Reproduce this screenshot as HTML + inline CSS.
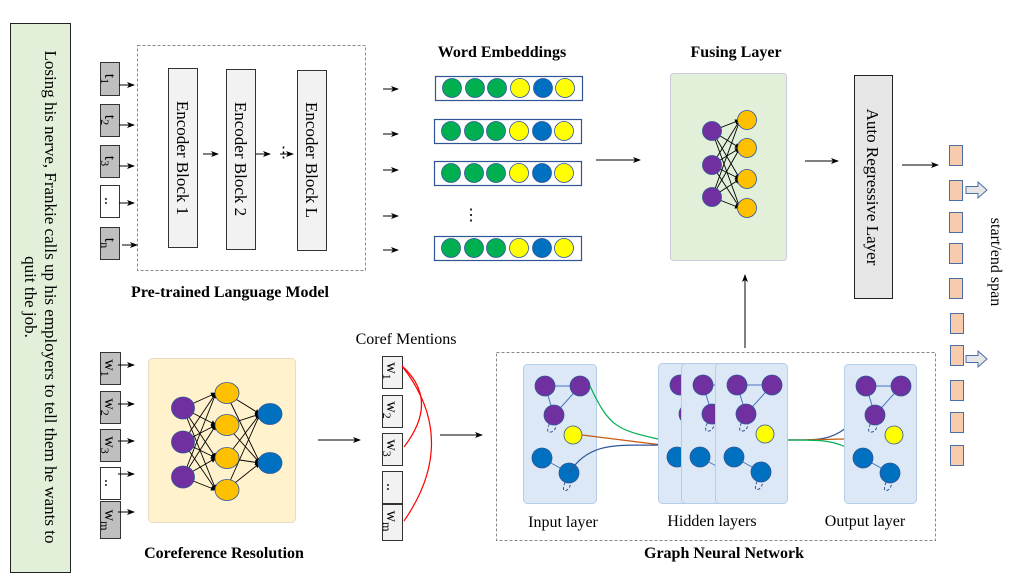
<!DOCTYPE html>
<html><head><meta charset="utf-8"><style>
body{margin:0;background:#fff}
svg, svg text{font-family:"Liberation Serif","DejaVu Serif",serif}
</style></head><body>
<svg width="1035" height="582" viewBox="0 0 1035 582" xmlns="http://www.w3.org/2000/svg" font-family="Liberation Serif, DejaVu Serif, serif">
<defs>
<marker id="a" markerWidth="8" markerHeight="8" refX="7" refY="4" orient="auto" markerUnits="userSpaceOnUse"><path d="M0,1 L8,4 L0,7 L2,4z" fill="#000"/></marker>
<marker id="s" markerWidth="6" markerHeight="6" refX="5" refY="3" orient="auto" markerUnits="userSpaceOnUse"><path d="M0,0.5 L6,3 L0,5.5z" fill="#000"/></marker>
<g id="gr">
<path d="M22,22 L57,22 L31,51 Z" fill="none" stroke="#4472c4" stroke-width="1"/>
<path d="M31,51 Q20,70 28,68 Q36,66 31,51" fill="none" stroke="#2f5597" stroke-dasharray="3,2"/>
<circle cx="22" cy="22" r="10" fill="#7030a0" stroke="#2f5597" stroke-width=".8"/>
<circle cx="57" cy="22" r="10" fill="#7030a0" stroke="#2f5597" stroke-width=".8"/>
<circle cx="31" cy="51" r="10" fill="#7030a0" stroke="#2f5597" stroke-width=".8"/>
<circle cx="50" cy="71" r="9" fill="#ffff00" stroke="#2f5597" stroke-width=".8"/>
<line x1="19" y1="94" x2="46" y2="109" stroke="#4472c4"/>
<path d="M46,109 Q36,130 44,126 Q50,122 46,109" fill="none" stroke="#2f5597" stroke-dasharray="3,2"/>
<circle cx="19" cy="94" r="10" fill="#0070c0" stroke="#2f5597" stroke-width=".8"/>
<circle cx="46" cy="109" r="10" fill="#0070c0" stroke="#2f5597" stroke-width=".8"/>
</g>
</defs>

<!-- left sentence -->
<rect x="10.5" y="23.5" width="60" height="549" fill="#e2efd9" stroke="#222"/>
<text transform="translate(45,297) rotate(90)" text-anchor="middle" font-size="17">Losing his nerve, Frankie calls up his employers to tell them he wants to</text>
<text transform="translate(25,297) rotate(90)" text-anchor="middle" font-size="17">quit the job.</text>

<!-- PLM -->
<rect x="137.5" y="45.5" width="228" height="225" fill="none" stroke="#888" stroke-dasharray="3,2"/>
<g stroke="#333">
<rect x="100.5" y="62.5" width="19" height="33" fill="#bfbfbf"/>
<rect x="100.5" y="104.5" width="19" height="32" fill="#bfbfbf"/>
<rect x="100.5" y="145.5" width="19" height="32" fill="#bfbfbf"/>
<rect x="100.5" y="185.5" width="19" height="32" fill="#fff"/>
<rect x="100.5" y="227.5" width="19" height="32" fill="#bfbfbf"/>
</g>
<g font-size="16" text-anchor="middle">
<text transform="translate(105,79) rotate(90)">t<tspan font-size="12" dy="4">1</tspan></text>
<text transform="translate(105,120) rotate(90)">t<tspan font-size="12" dy="4">2</tspan></text>
<text transform="translate(105,161) rotate(90)">t<tspan font-size="12" dy="4">3</tspan></text>
<text transform="translate(105,201) rotate(90)">..</text>
<text transform="translate(105,243) rotate(90)">t<tspan font-size="12" dy="4">n</tspan></text>
</g>
<g stroke="#000" marker-end="url(#a)">
<line x1="119" y1="85" x2="134" y2="85"/><line x1="119" y1="125" x2="134" y2="125"/>
<line x1="119" y1="166" x2="134" y2="166"/><line x1="119" y1="203" x2="134" y2="203"/>
<line x1="122" y1="245" x2="137" y2="245"/>
<line x1="203" y1="154" x2="218" y2="154"/><line x1="255" y1="154" x2="270" y2="154"/>
<line x1="280" y1="154" x2="293" y2="154"/>
</g>
<text x="276" y="157" font-size="15">⋮</text>
<g fill="#f2f2f2" stroke="#333">
<rect x="168.5" y="68.5" width="29" height="179"/>
<rect x="226.5" y="69.5" width="29" height="180"/>
<rect x="297.5" y="70.5" width="29" height="180"/>
</g>
<g font-size="17" text-anchor="middle">
<text transform="translate(177,158) rotate(90)">Encoder Block 1</text>
<text transform="translate(235,159) rotate(90)">Encoder Block 2</text>
<text transform="translate(306,160) rotate(90)">Encoder Block L</text>
</g>
<text x="230" y="297" font-size="16" font-weight="bold" text-anchor="middle">Pre-trained Language Model</text>

<!-- Word embeddings -->
<text x="502" y="57" font-size="16" font-weight="bold" text-anchor="middle">Word Embeddings</text>
<g stroke="#000" marker-end="url(#a)">
<line x1="383" y1="89" x2="398" y2="89"/><line x1="383" y1="134" x2="398" y2="134"/>
<line x1="383" y1="170" x2="398" y2="170"/><line x1="383" y1="216" x2="398" y2="216"/>
<line x1="383" y1="250" x2="398" y2="250"/>
</g>
<g id="emb">
<rect x="435.5" y="76.5" width="147" height="24" fill="#fff" stroke="#2f5597" stroke-width="1.2"/>
<g stroke="#2f5597" stroke-width=".8">
<circle cx="452" cy="88" r="9.5" fill="#00b050"/><circle cx="475" cy="88" r="9.5" fill="#00b050"/>
<circle cx="497" cy="88" r="9.5" fill="#00b050"/><circle cx="520" cy="88" r="9.5" fill="#ffff00"/>
<circle cx="543" cy="88" r="9.5" fill="#0070c0"/><circle cx="565" cy="88" r="9.5" fill="#ffff00"/>
</g></g>
<use href="#emb" x="-1" y="43"/><use href="#emb" x="-1" y="85"/><use href="#emb" x="-1" y="160"/>
<text x="471" y="220" font-size="16" text-anchor="middle">⋮</text>

<!-- Fusing -->
<line x1="596" y1="160" x2="640" y2="160" stroke="#000" marker-end="url(#a)"/>
<text x="736" y="57" font-size="16" font-weight="bold" text-anchor="middle">Fusing Layer</text>
<rect x="670.5" y="73.5" width="116" height="187" rx="3" fill="#e2efd9" stroke="#ccd"/>
<g stroke="#000" stroke-width=".9" marker-end="url(#s)">
<line x1="712" y1="131" x2="740" y2="120"/><line x1="712" y1="131" x2="740" y2="148"/><line x1="712" y1="131" x2="740" y2="179"/><line x1="712" y1="131" x2="740" y2="208"/>
<line x1="712" y1="165" x2="740" y2="120"/><line x1="712" y1="165" x2="740" y2="148"/><line x1="712" y1="165" x2="740" y2="179"/><line x1="712" y1="165" x2="740" y2="208"/>
<line x1="712" y1="197" x2="740" y2="120"/><line x1="712" y1="197" x2="740" y2="148"/><line x1="712" y1="197" x2="740" y2="179"/><line x1="712" y1="197" x2="740" y2="208"/>
</g>
<g stroke="#2f5597" stroke-width=".8">
<circle cx="712" cy="131" r="9.5" fill="#7030a0"/><circle cx="712" cy="165" r="9.5" fill="#7030a0"/><circle cx="712" cy="197" r="9.5" fill="#7030a0"/>
<circle cx="747" cy="120" r="9.5" fill="#ffc000"/><circle cx="747" cy="148" r="9.5" fill="#ffc000"/><circle cx="747" cy="179" r="9.5" fill="#ffc000"/><circle cx="747" cy="208" r="9.5" fill="#ffc000"/>
</g>
<line x1="745" y1="348" x2="745" y2="275" stroke="#000" marker-end="url(#a)"/>

<!-- AR -->
<line x1="805" y1="161" x2="838" y2="161" stroke="#000" marker-end="url(#a)"/>
<rect x="854.5" y="75.5" width="38" height="223" fill="#e6e6e6" stroke="#222"/>
<text transform="translate(867,187) rotate(90)" font-size="17" text-anchor="middle">Auto Regressive Layer</text>
<line x1="902" y1="165" x2="938" y2="165" stroke="#000" marker-end="url(#a)"/>
<g fill="#f8cbad" stroke="#4a6fa8">
<rect x="949.5" y="145.5" width="13" height="20"/><rect x="949.5" y="180.5" width="13" height="20"/>
<rect x="949.5" y="212.5" width="13" height="20"/><rect x="949.5" y="243.5" width="13" height="20"/>
<rect x="949.5" y="278.5" width="13" height="20"/><rect x="950.5" y="313.5" width="13" height="20"/>
<rect x="950.5" y="345.5" width="13" height="20"/><rect x="950.5" y="380.5" width="13" height="20"/>
<rect x="950.5" y="412.5" width="13" height="20"/><rect x="950.5" y="445.5" width="13" height="20"/>
</g>
<g fill="#e6e6e6" stroke="#4a6fa8">
<path d="M966,186.5 H978 V182 L987,190 L978,198 V193.5 H966Z"/>
<path d="M966,355.5 H978 V351 L987,359 L978,367 V362.5 H966Z"/>
</g>
<text transform="translate(991,262) rotate(90)" font-size="16" text-anchor="middle">start/end span</text>

<!-- Coreference -->
<g stroke="#333">
<rect x="100.5" y="352.5" width="20" height="32" fill="#bfbfbf"/>
<rect x="100.5" y="391.5" width="20" height="32" fill="#bfbfbf"/>
<rect x="100.5" y="429.5" width="20" height="32" fill="#bfbfbf"/>
<rect x="100.5" y="467.5" width="20" height="32" fill="#fff"/>
<rect x="100.5" y="501.5" width="20" height="37" fill="#bfbfbf"/>
</g>
<g font-size="16" text-anchor="middle">
<text transform="translate(105,368) rotate(90)">w<tspan font-size="12" dy="4">1</tspan></text>
<text transform="translate(105,407) rotate(90)">w<tspan font-size="12" dy="4">2</tspan></text>
<text transform="translate(105,445) rotate(90)">w<tspan font-size="12" dy="4">3</tspan></text>
<text transform="translate(105,483) rotate(90)">..</text>
<text transform="translate(105,520) rotate(90)">w<tspan font-size="12" dy="4">m</tspan></text>
</g>
<g stroke="#000" marker-end="url(#a)">
<line x1="118" y1="365" x2="134" y2="365"/><line x1="118" y1="404" x2="134" y2="404"/>
<line x1="118" y1="441" x2="134" y2="441"/><line x1="118" y1="474" x2="134" y2="474"/>
<line x1="118" y1="512" x2="134" y2="512"/>
</g>
<rect x="148.5" y="358.5" width="147" height="164" rx="4" fill="#fff2cc" stroke="#e6dcc0"/>
<g stroke="#000" stroke-width=".9" marker-end="url(#s)">
<line x1="183" y1="408" x2="216" y2="393"/><line x1="183" y1="408" x2="216" y2="425"/><line x1="183" y1="408" x2="216" y2="458"/><line x1="183" y1="408" x2="216" y2="490"/>
<line x1="183" y1="442" x2="216" y2="393"/><line x1="183" y1="442" x2="216" y2="425"/><line x1="183" y1="442" x2="216" y2="458"/><line x1="183" y1="442" x2="216" y2="490"/>
<line x1="183" y1="477" x2="216" y2="393"/><line x1="183" y1="477" x2="216" y2="425"/><line x1="183" y1="477" x2="216" y2="458"/><line x1="183" y1="477" x2="216" y2="490"/>
<line x1="226" y1="393" x2="260" y2="414"/><line x1="226" y1="393" x2="260" y2="463"/>
<line x1="226" y1="425" x2="260" y2="414"/><line x1="226" y1="425" x2="260" y2="463"/>
<line x1="226" y1="458" x2="260" y2="414"/><line x1="226" y1="458" x2="260" y2="463"/>
<line x1="226" y1="490" x2="260" y2="414"/><line x1="226" y1="490" x2="260" y2="463"/>
</g>
<g stroke="#2f5597" stroke-width=".8">
<ellipse cx="183" cy="408" rx="11.5" ry="11" fill="#7030a0"/><ellipse cx="183" cy="442" rx="11.5" ry="11" fill="#7030a0"/><ellipse cx="183" cy="477" rx="11.5" ry="11" fill="#7030a0"/>
<ellipse cx="227" cy="393" rx="12" ry="10.5" fill="#ffc000"/><ellipse cx="227" cy="425" rx="12" ry="10.5" fill="#ffc000"/><ellipse cx="227" cy="458" rx="12" ry="10.5" fill="#ffc000"/><ellipse cx="227" cy="490" rx="12" ry="10.5" fill="#ffc000"/>
<ellipse cx="270" cy="414" rx="12" ry="10.5" fill="#0070c0"/><ellipse cx="270" cy="463" rx="12" ry="10.5" fill="#0070c0"/>
</g>
<text x="224" y="558" font-size="16" font-weight="bold" text-anchor="middle">Coreference Resolution</text>
<line x1="318" y1="440" x2="360" y2="440" stroke="#000" marker-end="url(#a)"/>
<text x="406" y="344" font-size="16" text-anchor="middle">Coref Mentions</text>
<g fill="#f2f2f2" stroke="#333">
<rect x="382.5" y="356.5" width="20" height="32"/><rect x="382.5" y="395.5" width="20" height="32"/>
<rect x="382.5" y="433.5" width="20" height="32"/><rect x="382.5" y="471.5" width="20" height="32"/>
<rect x="382.5" y="504.5" width="20" height="36"/>
</g>
<g font-size="16" text-anchor="middle">
<text transform="translate(387,371) rotate(90)">w<tspan font-size="12" dy="4">1</tspan></text>
<text transform="translate(387,410) rotate(90)">w<tspan font-size="12" dy="4">2</tspan></text>
<text transform="translate(387,448) rotate(90)">w<tspan font-size="12" dy="4">3</tspan></text>
<text transform="translate(387,487) rotate(90)">..</text>
<text transform="translate(387,521) rotate(90)">w<tspan font-size="12" dy="4">m</tspan></text>
</g>
<g fill="none" stroke="#ff0000" stroke-width="1.2">
<path d="M402,366 Q440,400 404,447"/>
<path d="M402,366 Q460,440 404,521"/>
</g>
<line x1="440" y1="435" x2="482" y2="435" stroke="#000" marker-end="url(#a)"/>

<!-- GNN -->
<rect x="496.5" y="352.5" width="439" height="188" fill="none" stroke="#888" stroke-dasharray="3,2"/>
<rect x="523.5" y="364.5" width="73" height="139" rx="4" fill="#dce8f5" stroke="#b4cde8"/>
<use href="#gr" x="523" y="364"/>
<g fill="none" stroke-width="1.2">
<path d="M590,386 C610,430 620,430 662,440" stroke="#00b050"/>
<path d="M582,435 C620,440 640,442 662,445" stroke="#c55a11"/>
<path d="M569,473 C590,440 620,446 662,445" stroke="#2f5597"/>
<path d="M787,440 C820,440 830,440 846,428" stroke="#2f5597"/>
<path d="M787,440 C820,440 830,439 846,439" stroke="#c55a11"/>
<path d="M787,440 C820,440 830,440 846,447" stroke="#00b050"/>
</g>
<rect x="658.5" y="363.5" width="72" height="140" rx="4" fill="#dce8f5" stroke="#b4cde8"/>
<use href="#gr" x="658" y="363"/>
<rect x="681.5" y="363.5" width="71" height="140" rx="4" fill="#dce8f5" stroke="#b4cde8"/>
<use href="#gr" x="681" y="363"/>
<rect x="715.5" y="363.5" width="72" height="140" rx="4" fill="#dce8f5" stroke="#b4cde8"/>
<use href="#gr" x="715" y="363"/>
<rect x="844.5" y="364.5" width="72" height="139" rx="4" fill="#dce8f5" stroke="#b4cde8"/>
<use href="#gr" x="844" y="364"/>
<g font-size="16" text-anchor="middle">
<text x="563" y="527">Input layer</text>
<text x="712" y="526">Hidden layers</text>
<text x="865" y="526">Output layer</text>
</g>
<text x="724" y="558" font-size="16" font-weight="bold" text-anchor="middle">Graph Neural Network</text>
</svg>
</body></html>
